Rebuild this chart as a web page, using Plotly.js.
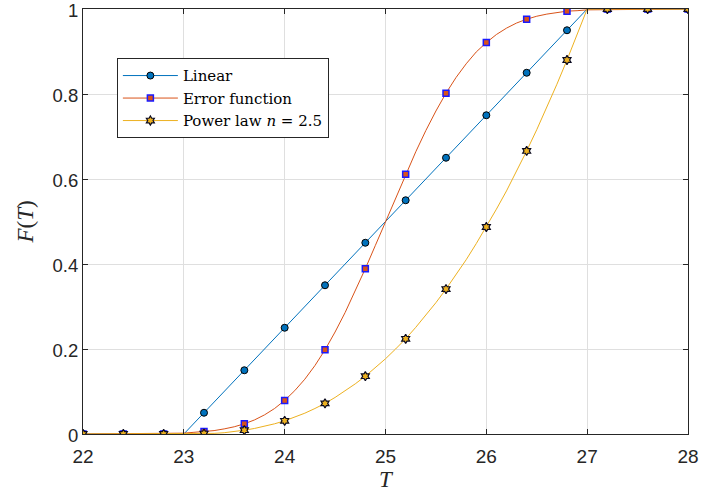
<!DOCTYPE html>
<html>
<head>
<meta charset="utf-8">
<script src="https://cdn.plot.ly/plotly-3.0.1.min.js"></script>
<style>html,body{margin:0;padding:0;background:#fff;}#chart{width:702px;height:495px;}</style>
</head>
<body>
<div id="chart"></div>
<script>
// Marker sample temperatures
const markerT = [22, 22.4, 22.8, 23.2, 23.6, 24.0, 24.4, 24.8, 25.2, 25.6, 26.0, 26.4, 26.8, 27.2, 27.6, 28.0];
const linearMarkers = [0, 0, 0, 0.05, 0.15, 0.25, 0.35, 0.45, 0.55, 0.65, 0.75, 0.85, 0.95, 1, 1, 1];
const erfMarkers = [0, 0, 0, 0.006, 0.024, 0.079, 0.198, 0.389, 0.611, 0.802, 0.921, 0.976, 0.995, 1, 1, 1];
const powerMarkers = [0, 0, 0, 0.001, 0.009, 0.031, 0.072, 0.136, 0.224, 0.341, 0.487, 0.666, 0.880, 1, 1, 1];

// Curve samples
const linearT = [22, 23, 27, 28];
const linearCurve = [0, 0, 1, 1];
const curveT = [22, 23.0, 23.1, 23.2, 23.3, 23.4, 23.5, 23.6, 23.7, 23.8, 23.9, 24.0, 24.1, 24.2, 24.3, 24.4, 24.5, 24.6, 24.7, 24.8, 24.9, 25.0, 25.1, 25.2, 25.3, 25.4, 25.5, 25.6, 25.7, 25.8, 25.9, 26.0, 26.1, 26.2, 26.3, 26.4, 26.5, 26.6, 26.7, 26.8, 26.9, 27.0, 28];
const erfCurve = [0, 0.002, 0.004, 0.006, 0.008, 0.012, 0.017, 0.024, 0.033, 0.045, 0.060, 0.079, 0.102, 0.129, 0.161, 0.198, 0.240, 0.286, 0.336, 0.389, 0.444, 0.500, 0.556, 0.611, 0.664, 0.714, 0.760, 0.802, 0.839, 0.871, 0.899, 0.921, 0.940, 0.955, 0.967, 0.976, 0.983, 0.988, 0.992, 0.995, 0.996, 0.998, 1];
const powerCurve = [0, 0, 0.0001, 0.0006, 0.0015, 0.003, 0.0055, 0.009, 0.013, 0.018, 0.024, 0.031, 0.040, 0.049, 0.060, 0.072, 0.086, 0.101, 0.118, 0.136, 0.156, 0.177, 0.200, 0.224, 0.251, 0.279, 0.309, 0.341, 0.374, 0.410, 0.448, 0.487, 0.529, 0.572, 0.618, 0.666, 0.716, 0.768, 0.823, 0.880, 0.939, 1, 1];

const names = ['Linear', 'Error function', 'Power law <i>n</i> = 2.5'];
const lineColors = ['#0072BD', '#D95319', '#EDB120'];

const series = [
  {t: linearT, c: linearCurve, m: linearMarkers,
   marker: {symbol: 'circle', size: 7, color: '#0072BD', line: {color: '#000000', width: 1}}},
  {t: curveT, c: erfCurve, m: erfMarkers,
   marker: {symbol: 'square', size: 6, color: '#D95319', line: {color: '#1a1aff', width: 1.5}}},
  {t: curveT, c: powerCurve, m: powerMarkers,
   marker: {symbol: 'hexagram', size: 7, color: '#EDB120', line: {color: '#0a0a20', width: 1.2}}}
];

const traces = [];
series.forEach((s, i) => {
  traces.push({x: s.t, y: s.c, mode: 'lines', line: {color: lineColors[i], width: 1}, showlegend: false, hoverinfo: 'skip'});
  traces.push({x: markerT, y: s.m, mode: 'markers', marker: s.marker, showlegend: false});
  traces.push({x: [null], y: [null], mode: 'lines+markers', name: names[i], line: {color: lineColors[i], width: 1}, marker: s.marker, showlegend: true});
});

const axisCommon = {
  showline: true, linecolor: '#262626', linewidth: 1, mirror: 'ticks',
  ticks: 'inside', ticklen: 5, tickcolor: '#262626', tickwidth: 1,
  showgrid: true, gridcolor: '#dfdfdf', gridwidth: 1, zeroline: false,
  ticklabeloverflow: 'allow',
  tickfont: {family: 'Liberation Sans, Arial, sans-serif', size: 19, color: '#262626'}
};

const layout = {
  width: 702, height: 495,
  margin: {l: 83, r: 14, t: 9, b: 61},
  paper_bgcolor: '#ffffff', plot_bgcolor: '#ffffff',
  xaxis: Object.assign({}, axisCommon, {
    range: [22, 28], tickvals: [22, 23, 24, 25, 26, 27, 28], ticktext: ['22','23','24','25','26','27','28'],
    ticklabelstandoff: 5,
    title: {text: '<i>T</i>', font: {family: 'Liberation Serif, serif', size: 23, color: '#262626'}, standoff: 4}
  }),
  yaxis: Object.assign({}, axisCommon, {
    range: [0, 1], tickvals: [0, 0.2, 0.4, 0.6, 0.8, 1], ticktext: ['0','0.2','0.4','0.6','0.8','1'],
    ticklabelshift: 2,
    tickfont: {family: 'Liberation Sans, Arial, sans-serif', size: 18.5, color: '#262626'},
    title: {text: '<i>F</i>(<i>T</i>)', font: {family: 'Liberation Serif, serif', size: 23, color: '#262626'}, standoff: 12}
  }),
  legend: {
    x: 0.056, y: 0.884, xanchor: 'left', yanchor: 'top',
    bgcolor: '#ffffff', bordercolor: '#262626', borderwidth: 1,
    font: {family: 'DejaVu Serif, serif', size: 15, color: '#000000'},
    itemwidth: 55,
    tracegroupgap: 0
  },
  showlegend: true
};

Plotly.newPlot('chart', traces, layout, {displayModeBar: false, staticPlot: true});
</script>
</body>
</html>
